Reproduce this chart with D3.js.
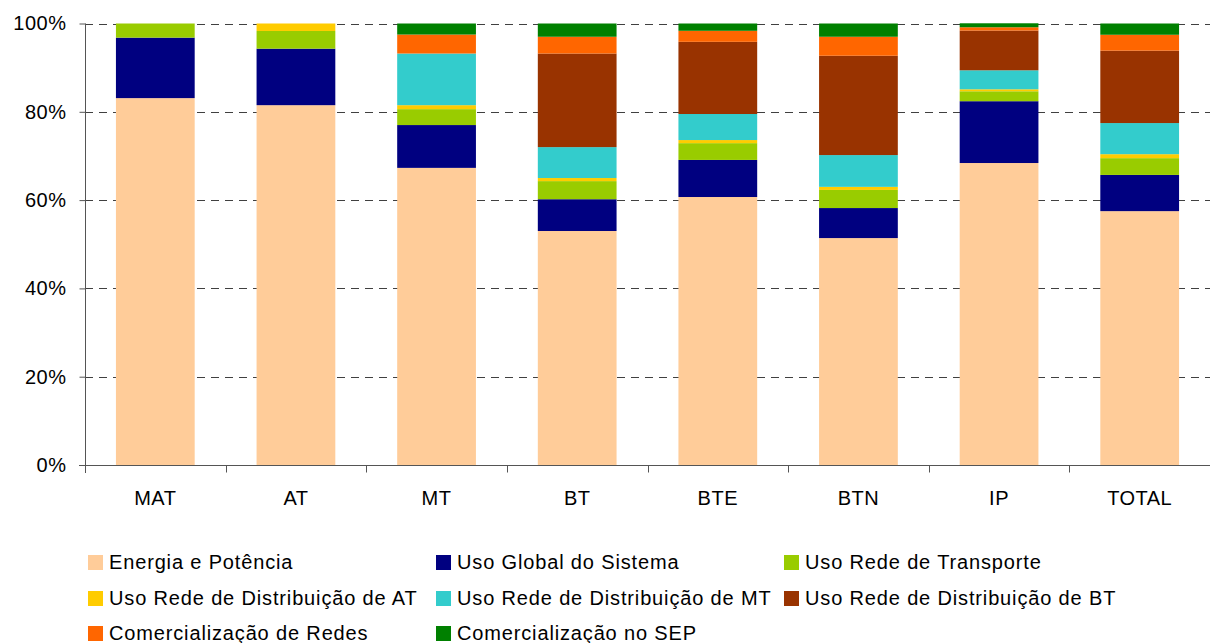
<!DOCTYPE html>
<html>
<head>
<meta charset="utf-8">
<script src="https://cdn.jsdelivr.net/npm/d3@7"></script>
<style>
  html, body { margin: 0; padding: 0; background: #fff; }
  svg text { font-family: Arial, "Liberation Sans", sans-serif; fill: #000; }
</style>
</head>
<body>
<div id="viz"></div>
<script>
// categories along the x axis
const categories = ['MAT', 'AT', 'MT', 'BT', 'BTE', 'BTN', 'IP', 'TOTAL'];

// share of each component (%)
const energiaPotencia = [83.1, 81.5, 67.3, 53.0, 60.7, 51.4, 68.4, 57.5];
const usoGlobal       = [13.7, 12.8,  9.7,  7.2,  8.4,  6.8, 14.0,  8.2];
const usoTransporte   = [ 3.2,  4.0,  3.6,  4.1,  3.8,  4.1,  2.25, 3.8];
const usoDistAT       = [ 0,    1.7,  0.9,  0.7,  0.7,  0.7,  0.45, 0.9];
const usoDistMT       = [ 0,    0,   11.7,  7.0,  5.9,  7.2,  4.3,  7.05];
const usoDistBT       = [ 0,    0,    0,   21.2, 16.35, 22.5, 9.0, 16.4];
const comercRedes     = [ 0,    0,    4.3,  3.8,  2.5,  4.3,  0.75, 3.6];
const comercSEP       = [ 0,    0,    2.5,  3.0,  1.65, 3.0,  0.9,  2.55];

const seriesNames = [
  'Energia e Potência',
  'Uso Global do Sistema',
  'Uso Rede de Transporte',
  'Uso Rede de Distribuição de AT',
  'Uso Rede de Distribuição de MT',
  'Uso Rede de Distribuição de BT',
  'Comercialização de Redes',
  'Comercialização no SEP'
];
const seriesColors = ['#FFCC99', '#000080', '#99CC00', '#FFCC00', '#33CCCC', '#993300', '#FF6600', '#008000'];
const yTicks = [0, 20, 40, 60, 80, 100];

const seriesValues = [energiaPotencia, usoGlobal, usoTransporte, usoDistAT,
  usoDistMT, usoDistBT, comercRedes, comercSEP];

const rows = categories.map((c, i) => {
  const row = { cat: c };
  seriesNames.forEach((s, j) => { row[s] = seriesValues[j][i]; });
  return row;
});

const width = 1210, height = 643;
const plot = { left: 85, right: 1210, top: 23.5, bottom: 465 };

const svg = d3.select('#viz').append('svg')
  .attr('width', width)
  .attr('height', height);

const x = d3.scaleBand()
  .domain(categories)
  .range([plot.left, plot.right])
  .paddingInner(0.44)
  .paddingOuter(0.22);

const y = d3.scaleLinear()
  .domain([0, 100])
  .range([plot.bottom, plot.top]);

// dashed gridlines
svg.append('g')
  .selectAll('line')
  .data(yTicks.filter(d => d > 0))
  .join('line')
  .attr('x1', plot.left)
  .attr('x2', plot.right)
  .attr('y1', d => Math.round(y(d)) + 0.5)
  .attr('y2', d => Math.round(y(d)) + 0.5)
  .attr('stroke', '#404040')
  .attr('stroke-width', 1.2)
  .attr('stroke-dasharray', '8,6');

// stacked bars
const stack = d3.stack().keys(seriesNames);
const stacked = stack(rows);

svg.append('g')
  .selectAll('g')
  .data(stacked)
  .join('g')
  .attr('fill', (d, i) => seriesColors[i])
  .selectAll('rect')
  .data(d => d)
  .join('rect')
  .attr('x', d => x(d.data.cat))
  .attr('width', x.bandwidth())
  .attr('y', d => y(d[1]))
  .attr('height', d => y(d[0]) - y(d[1]));

// y axis
const yAxis = svg.append('g')
  .attr('transform', `translate(${plot.left + 0.5},0)`)
  .call(d3.axisLeft(y).tickValues(yTicks).tickSize(6).tickPadding(13).tickFormat(d => d + '%'));
yAxis.select('.domain').attr('stroke', '#555').attr('d', `M0,${plot.top}V${plot.bottom + 8}`);
yAxis.selectAll('.tick line').attr('stroke', '#555');
yAxis.selectAll('.tick text')
  .attr('font-size', 20)
  .attr('letter-spacing', '0.5px')
  .attr('font-family', 'Arial, "Liberation Sans", sans-serif');

// x axis with ticks between categories
const xAxisG = svg.append('g')
  .attr('transform', `translate(0,${plot.bottom + 0.5})`);
xAxisG.append('line')
  .attr('x1', plot.left - 6)
  .attr('x2', plot.right)
  .attr('stroke', '#555');
const step = x.step();
xAxisG.selectAll('.sep')
  .data(categories)
  .join('line')
  .attr('class', 'sep')
  .attr('x1', d => Math.round(x(d) - x.paddingOuter() * step) + 0.5)
  .attr('x2', d => Math.round(x(d) - x.paddingOuter() * step) + 0.5)
  .attr('y1', 0)
  .attr('y2', 7)
  .attr('stroke', '#555');
xAxisG.selectAll('.lab')
  .data(categories)
  .join('text')
  .attr('class', 'lab')
  .attr('x', d => x(d) + x.bandwidth() / 2)
  .attr('y', 39)
  .attr('text-anchor', 'middle')
  .attr('font-size', 20)
  .attr('letter-spacing', '0.5px')
  .text(d => d);

// legend, three per row
const legCols = [88, 436, 784];
const legRows = [562, 598, 633];
const leg = svg.append('g')
  .selectAll('g')
  .data(seriesNames)
  .join('g')
  .attr('transform', (d, i) => `translate(${legCols[i % 3]},${legRows[Math.floor(i / 3)]})`);
leg.append('rect')
  .attr('x', 0)
  .attr('y', -7)
  .attr('width', 15)
  .attr('height', 15)
  .attr('fill', (d, i) => seriesColors[i]);
leg.append('text')
  .attr('x', 21)
  .attr('y', 7)
  .attr('font-size', 20)
  .attr('letter-spacing', '0.85px')
  .text(d => d);
</script>
</body>
</html>
